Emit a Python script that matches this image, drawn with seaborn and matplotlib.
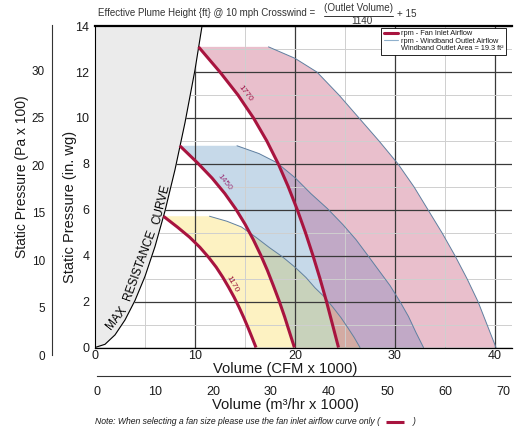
import numpy as np
import pandas as pd
import matplotlib
matplotlib.use("Agg")
import matplotlib.pyplot as plt
from matplotlib.lines import Line2D
import seaborn as sns

# ---------------- data ----------------
# max resistance (system) curve
mr_cfm = [0, 1, 2, 3, 4, 5, 6, 7, 8, 9, 10, 10.7]
mr_p = [0, 0.14, 0.55, 1.2, 2.05, 3.1, 4.4, 5.95, 7.75, 9.8, 12.1, 14.0]

# fan inlet airflow curves (CFM x 1000 vs in. wg)
fan1770_q = [10.35, 12.5, 14.3, 15.85, 17.18, 18.33, 19.33, 20.23, 21.05, 21.8, 22.5, 23.15, 23.75, 24.35]
fan1770_p = [13.1, 12.0, 11.0, 10.0, 9.0, 8.0, 7.0, 6.0, 5.0, 4.0, 3.0, 2.0, 1.0, 0.0]
fan1450_q = [8.48, 10.24, 11.71, 12.98, 14.07, 15.01, 15.83, 16.57, 17.24, 17.85, 18.43, 18.96, 19.45, 19.94]
fan1450_p = [8.79, 8.05, 7.38, 6.71, 6.04, 5.37, 4.70, 4.03, 3.36, 2.68, 2.01, 1.34, 0.67, 0.0]
fan1170_q = [6.84, 8.26, 9.45, 10.48, 11.36, 12.12, 12.78, 13.37, 13.91, 14.41, 14.87, 15.30, 15.70, 16.10]
fan1170_p = [5.72, 5.24, 4.81, 4.37, 3.93, 3.50, 3.06, 2.62, 2.19, 1.75, 1.31, 0.87, 0.44, 0.0]

# windband outlet airflow curves
out1770_q = [17.35, 20.0, 22.2, 24.4, 26.4, 28.4, 30.3, 31.9, 33.3, 34.7, 36.0, 37.2, 38.3, 39.2, 40.1]
out1770_p = [13.1, 12.6, 12.0, 11.0, 10.0, 9.0, 8.0, 7.0, 6.0, 5.0, 4.0, 3.0, 2.0, 1.0, 0.0]
out1450_q = [14.2, 16.4, 18.2, 20.0, 21.6, 23.25, 24.8, 26.1, 27.3, 28.4, 29.5, 30.5, 31.35, 32.1, 32.85]
out1450_p = [8.79, 8.45, 8.05, 7.4, 6.7, 6.05, 5.35, 4.7, 4.0, 3.35, 2.7, 2.0, 1.35, 0.65, 0.0]
out1170_q = [11.45, 13.2, 14.65, 16.1, 17.45, 18.75, 20.0, 21.1, 22.0, 22.95, 23.8, 24.6, 25.3, 25.9, 26.5]
out1170_p = [5.72, 5.5, 5.25, 4.8, 4.35, 3.95, 3.5, 3.05, 2.6, 2.2, 1.75, 1.3, 0.85, 0.45, 0.0]

rpm_labels = ["1770", "1450", "1170"]
cfm_ticks = [0, 10, 20, 30, 40]
inwg_ticks = [0, 2, 4, 6, 8, 10, 12, 14]
pa_ticks = [0, 5, 10, 15, 20, 25, 30]
m3_ticks = [0, 10, 20, 30, 40, 50, 60, 70]

# ---------------- style ----------------
sns.set_theme(style="white")
plt.rcParams["font.family"] = ["Liberation Sans", "DejaVu Sans"]
plt.rcParams["text.color"] = "#1a1a1a"
plt.rcParams["axes.labelcolor"] = "#1a1a1a"
plt.rcParams["xtick.color"] = "#1a1a1a"
plt.rcParams["ytick.color"] = "#1a1a1a"

RED = "#a8143f"
OUTLINE = "#5f7fa0"
PINK, BLUE, YELLOW = "#e9bfcc", "#c6d9e9", "#fdf2c2"
PURPLE, GREEN, TAN = "#c1a9c6", "#c8d2bb", "#d3aba3"
GREY = "#ebebeb"

W, H = 514, 429
fig = plt.figure(figsize=(W / 100, H / 100), dpi=100)
fig.patch.set_facecolor("white")


def fx(px):
    return px / W


def fy(py):
    return 1 - py / H


ax = fig.add_axes([fx(95), fy(347.5), (512 - 95) / W, (347.5 - 26.2) / H])
ax.set_xlim(0, 41.7)
ax.set_ylim(0, 14)
ax.set_facecolor("white")

# ---------------- fills ----------------
def poly(fq, fp, oq, op):
    return list(fq) + list(oq)[::-1], list(fp) + list(op)[::-1]


xs, ys = poly(fan1770_q, fan1770_p, out1770_q, out1770_p)
pink = ax.fill(xs, ys, color=PINK, lw=0, zorder=1.0)[0]
xb, yb = poly(fan1450_q, fan1450_p, out1450_q, out1450_p)
blue = ax.fill(xb, yb, color=BLUE, lw=0, zorder=1.1)[0]
purple = ax.fill(xb, yb, color=PURPLE, lw=0, zorder=1.2)[0]
purple.set_clip_path(pink)
xy_, yy_ = poly(fan1170_q, fan1170_p, out1170_q, out1170_p)
ax.fill(xy_, yy_, color=YELLOW, lw=0, zorder=1.3)
green = ax.fill(xy_, yy_, color=GREEN, lw=0, zorder=1.4)[0]
green.set_clip_path(blue)
tan = ax.fill(xy_, yy_, color=TAN, lw=0, zorder=1.5)[0]
tan.set_clip_path(pink)

# ---------------- grid ----------------
ax.set_xticks(cfm_ticks)
ax.set_xticks([5, 15, 25, 35], minor=True)
ax.set_yticks(inwg_ticks)
ax.set_yticks([1, 3, 5, 7, 9, 11, 13], minor=True)
ax.grid(which="major", color="#3a3a3a", lw=0.9)
ax.grid(which="minor", color="#cfcfcf", lw=0.7)
ax.set_axisbelow(False)
ax.tick_params(which="both", length=0)
ax.tick_params(axis="x", labelsize=9, pad=2)
ax.tick_params(axis="y", labelsize=9, pad=4)
ax.set_xlabel("")
ax.set_ylabel("")

# max resistance region
ax.fill_betweenx(mr_p, 0, mr_cfm, color=GREY, lw=0, zorder=2.6)
sns.lineplot(x=mr_cfm, y=mr_p, sort=False, estimator=None, color="black", lw=0.8, ax=ax, zorder=3)

# outlet curves
for q, p in [(out1770_q, out1770_p), (out1450_q, out1450_p), (out1170_q, out1170_p)]:
    sns.lineplot(x=q, y=p, sort=False, estimator=None, color=OUTLINE, lw=0.7, ax=ax, zorder=3.5)
# fan curves
for q, p in [(fan1770_q, fan1770_p), (fan1450_q, fan1450_p), (fan1170_q, fan1170_p)]:
    sns.lineplot(x=q, y=p, sort=False, estimator=None, color=RED, lw=2.2, ax=ax, zorder=4,
                 solid_capstyle="butt", solid_joinstyle="round")

ax.spines["right"].set_visible(False)
ax.spines["top"].set_linewidth(1.6)
ax.spines["left"].set_linewidth(0.8)
ax.spines["bottom"].set_linewidth(0.9)
for s in ["top", "left", "bottom"]:
    ax.spines[s].set_color("black")
    ax.spines[s].set_zorder(5)

# rpm labels
for lab, (x, y, r), c in zip(rpm_labels, [(15.0, 11.05, -52), (12.9, 7.18, -51), (13.7, 2.77, -60)],
                             ["#9c1848", "#9a3478", "#9c1838"]):
    ax.text(x, y, lab, rotation=r, rotation_mode="anchor", ha="center", va="center",
            fontsize=6, color=c, zorder=6)

# MAX RESISTANCE CURVE text (follows the curve)
for word, (x, y, r) in zip(["MAX", "RESISTANCE", "CURVE"],
                           [(2.2, 1.3, 52), (4.45, 3.6, 70), (6.6, 6.25, 76)]):
    ax.text(x, y, word, rotation=r, rotation_mode="anchor", ha="center", va="center",
            fontsize=8.5, color="black", zorder=6)

# legend
handles = [Line2D([], [], color=RED, lw=2.2), Line2D([], [], color="#8fb0cc", lw=0.8),
           Line2D([], [], color="none")]
labels = ["rpm - Fan Inlet Airflow", "rpm - Windband Outlet Airflow", "Windband Outlet Area = 19.3 ft\u00b2"]
leg = ax.legend(handles, labels, loc="upper right", bbox_to_anchor=(fx(506), fy(28)),
                bbox_transform=fig.transFigure, fontsize=5.3, frameon=True, fancybox=False,
                edgecolor="black", framealpha=1, borderpad=0.3, labelspacing=0.05,
                handlelength=2.0, handletextpad=0.4, borderaxespad=0)
leg.get_frame().set_linewidth(0.6)
leg.set_zorder(10)

# ---------------- outer Pa axis ----------------
axp = fig.add_axes([fx(52), fy(355), 0.0001, (355 - 25) / H])
axp.set_ylim(0, (355 - 25) / 9.48)
axp.patch.set_visible(False)
for s in ["top", "right", "bottom"]:
    axp.spines[s].set_visible(False)
axp.spines["left"].set_color("#333333")
axp.spines["left"].set_linewidth(0.8)
axp.set_xticks([])
axp.set_yticks(pa_ticks)
axp.set_yticks(np.arange(2.5, 35, 5), minor=True)
axp.tick_params(axis="y", which="major", length=4, width=0.8, direction="out", labelsize=8.5, pad=1)
axp.tick_params(axis="y", which="minor", length=2, width=0.6, direction="out")

# ---------------- second x axis (m3/hr) ----------------
axm = fig.add_axes([fx(96.7), fy(376), (510 - 96.7) / W, 0.0001])
axm.set_xlim(0, (510 - 96.7) / 5.81)
axm.patch.set_visible(False)
for s in ["top", "right", "left"]:
    axm.spines[s].set_visible(False)
axm.spines["bottom"].set_color("#333333")
axm.spines["bottom"].set_linewidth(0.8)
axm.set_yticks([])
axm.set_xticks(m3_ticks)
axm.set_xticks(np.arange(5, 71, 10), minor=True)
axm.tick_params(axis="x", which="major", length=3, width=0.7, direction="in", labelsize=9, pad=7)
axm.tick_params(axis="x", which="minor", length=2, width=0.6, direction="in")

# ---------------- texts ----------------
fig.text(fx(70), fy(206.5), "Static Pressure (in. wg)", rotation=90, ha="center", va="center", fontsize=10.5)
fig.text(fx(22), fy(176.5), "Static Pressure (Pa x 100)", rotation=90, ha="center", va="center", fontsize=10)
fig.text(fx(285), fy(369), "Volume (CFM x 1000)", ha="center", va="center", fontsize=10.6)
fig.text(fx(285), fy(405), "Volume (m\u00b3/hr x 1000)", ha="center", va="center", fontsize=10.6)

# title with fraction
TC = "#333333"
fig.text(fx(98), fy(13.5), "Effective Plume Height {ft} @ 10 mph Crosswind =", ha="left", va="center",
         fontsize=7.05, color=TC)
fig.text(fx(358), fy(8), "(Outlet Volume)", ha="center", va="center", fontsize=7.1, color=TC)
fig.add_artist(Line2D([fx(324), fx(393)], [fy(15.5), fy(15.5)], color=TC, lw=0.7, transform=fig.transFigure))
fig.text(fx(362), fy(21), "1140", ha="center", va="center", fontsize=7.1, color=TC)
fig.text(fx(397), fy(14), "+ 15", ha="left", va="center", fontsize=7.1, color=TC)

# note
fig.text(fx(95), fy(422), "Note: When selecting a fan size please use the fan inlet airflow curve only (",
         ha="left", va="center", fontsize=6.2, style="italic")
fig.add_artist(Line2D([fx(386), fx(404)], [fy(422), fy(422)], color=RED, lw=2.2,
                      transform=fig.transFigure, solid_capstyle="butt"))
fig.text(fx(413), fy(422), ")", ha="left", va="center", fontsize=6.2, style="italic")

fig.savefig("out.png", dpi=100, facecolor="white")
